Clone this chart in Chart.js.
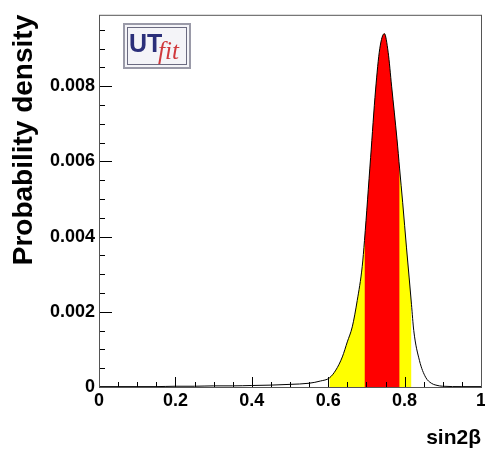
<!DOCTYPE html>
<html>
<head>
<meta charset="utf-8">
<script src="https://cdn.jsdelivr.net/npm/chart.js@4/dist/chart.umd.min.js"></script>
<style>
  body { margin: 0; background: #fff; }
</style>
</head>
<body>
<canvas id="sin2b" width="485" height="454"></canvas>
<script>
// sin2beta values and probability density
const sinValues = [
  0, 0.05, 0.1, 0.15, 0.2, 0.25, 0.3, 0.35, 0.4, 0.45, 0.5, 0.55, 0.58,
  0.603, 0.62, 0.637, 0.65, 0.663, 0.676, 0.689, 0.695, 0.711, 0.724,
  0.735, 0.747, 0.757, 0.766, 0.78, 0.787, 0.795, 0.805, 0.812, 0.818,
  0.824, 0.839, 0.855, 0.87, 0.882, 0.9, 0.95, 1,
];
const densityValues = [
  0.00001, 0.00001, 0.00001, 0.00001, 0.00002, 0.00002, 0.00003, 0.00003,
  0.00004, 0.00005, 0.00007, 0.0001, 0.00016, 0.00024, 0.00045, 0.0008,
  0.0012, 0.0016, 0.0023, 0.0032, 0.0039, 0.0061, 0.0079, 0.009, 0.0094,
  0.0089, 0.008, 0.0066, 0.0058, 0.0049, 0.0037, 0.0029, 0.0022, 0.0015,
  0.0007, 0.00026, 0.0001, 0.00005, 0.00002, 0.00001, 0.00001,
];
// 95% (yellow) and 68% (red) intervals
const yellowRange = [0.603, 0.818];
const redRange = [0.695, 0.787];

const xTickLabels = [0, 0.2, 0.4, 0.6, 0.8, 1];
const yTickLabels = [0, 0.002, 0.004, 0.006, 0.008];

const FONT = "'Liberation Sans', Arial, Helvetica, sans-serif";

const curve = sinValues.map((x, i) => ({ x: x, y: densityValues[i] }));

function band(range) {
  return curve.filter((p) => p.x >= range[0] && p.x <= range[1]);
}

// ROOT style frame with inward ticks
const framePlugin = {
  id: "frame",
  afterDatasetsDraw(chart) {
    const { ctx, chartArea, scales } = chart;
    ctx.save();
    ctx.strokeStyle = "#000";
    ctx.lineWidth = 1;
    ctx.beginPath();

    for (let i = 0; i <= 20; i++) {
      const v = i * 0.05;
      const px = Math.round(scales.x.getPixelForValue(v)) + 0.5;
      const len = i % 4 === 0 ? 10 : 5;
      ctx.moveTo(px, chartArea.bottom);
      ctx.lineTo(px, chartArea.bottom - len);
    }
    for (let i = 0; i <= 19; i++) {
      const v = i * 0.0005;
      const py = Math.round(scales.y.getPixelForValue(v)) + 0.5;
      const len = i % 4 === 0 ? 13 : 6;
      ctx.moveTo(chartArea.left, py);
      ctx.lineTo(chartArea.left + len, py);
    }
    ctx.stroke();

    ctx.strokeStyle = "#555";
    ctx.strokeRect(
      chartArea.left + 0.5,
      chartArea.top + 0.5,
      chartArea.right - chartArea.left,
      chartArea.bottom - chartArea.top
    );
    ctx.restore();
  },
  afterDraw(chart) {
    // UTfit logo box
    const ctx = chart.ctx;
    ctx.save();
    ctx.fillStyle = "#f4f4f8";
    ctx.fillRect(123, 23, 68, 46);
    ctx.strokeStyle = "#9a9aa8";
    ctx.lineWidth = 2;
    ctx.strokeRect(124, 24, 66, 44);
    ctx.strokeStyle = "#6a6a80";
    ctx.lineWidth = 1;
    ctx.strokeRect(127.5, 27.5, 59, 37);
    ctx.fillStyle = "#2b2f7a";
    ctx.font = "bold 25px " + FONT;
    ctx.textBaseline = "alphabetic";
    ctx.fillText("UT", 129, 52);
    ctx.fillStyle = "#d0383c";
    ctx.font = "italic 25px 'Liberation Serif', 'DejaVu Serif', serif";
    ctx.fillText("fit", 158, 59);
    ctx.restore();
  },
};

const chart = new Chart(document.getElementById("sin2b"), {
  type: "line",
  data: {
    datasets: [
      {
        label: "curve",
        data: curve,
        borderColor: "#000",
        borderWidth: 1,
        pointRadius: 0,
        fill: false,
        cubicInterpolationMode: "monotone",
        order: 0,
      },
      {
        label: "68%",
        data: band(redRange),
        borderWidth: 0,
        borderColor: "rgba(0,0,0,0)",
        backgroundColor: "#ff0000",
        pointRadius: 0,
        fill: "origin",
        cubicInterpolationMode: "monotone",
        order: 1,
      },
      {
        label: "95%",
        data: band(yellowRange),
        borderWidth: 0,
        borderColor: "rgba(0,0,0,0)",
        backgroundColor: "#ffff00",
        pointRadius: 0,
        fill: "origin",
        cubicInterpolationMode: "monotone",
        order: 2,
      },
    ],
  },
  options: {
    responsive: false,
    animation: false,
    devicePixelRatio: 1,
    layout: { padding: { top: 10, right: 4, left: 0, bottom: 0 } },
    plugins: {
      legend: { display: false },
      tooltip: { enabled: false },
    },
    scales: {
      x: {
        type: "linear",
        min: 0,
        max: 1,
        grid: { display: false, drawTicks: false },
        border: { display: false },
        afterBuildTicks: (scale) => {
          scale.ticks = xTickLabels.map((v) => ({ value: v }));
        },
        afterFit: (scale) => {
          scale.height = 67;
          scale.paddingRight = 0;
          scale.paddingLeft = 0;
        },
        ticks: {
          padding: 3,
          color: "#000",
          font: { family: FONT, size: 18, weight: "bold" },
          maxRotation: 0,
          autoSkip: false,
          callback: (v) => String(v),
        },
        title: {
          display: true,
          text: "sin2β",
          align: "end",
          color: "#000",
          font: { family: FONT, size: 21, weight: "bold" },
          padding: { top: 0, bottom: 3 },
        },
      },
      y: {
        type: "linear",
        min: 0,
        max: 0.0099,
        grid: { display: false, drawTicks: false },
        border: { display: false },
        afterBuildTicks: (scale) => {
          scale.ticks = yTickLabels.map((v) => ({ value: v }));
        },
        afterFit: (scale) => {
          scale.width = 99;
        },
        ticks: {
          padding: 4,
          color: "#000",
          font: { family: FONT, size: 18, weight: "bold" },
          autoSkip: false,
          callback: (v) => String(v),
        },
        title: {
          display: true,
          text: "Probability density",
          align: "end",
          color: "#000",
          font: { family: FONT, size: 28, weight: "bold" },
          padding: { top: 7, bottom: 0 },
        },
      },
    },
  },
  plugins: [framePlugin],
});
</script>
</body>
</html>
